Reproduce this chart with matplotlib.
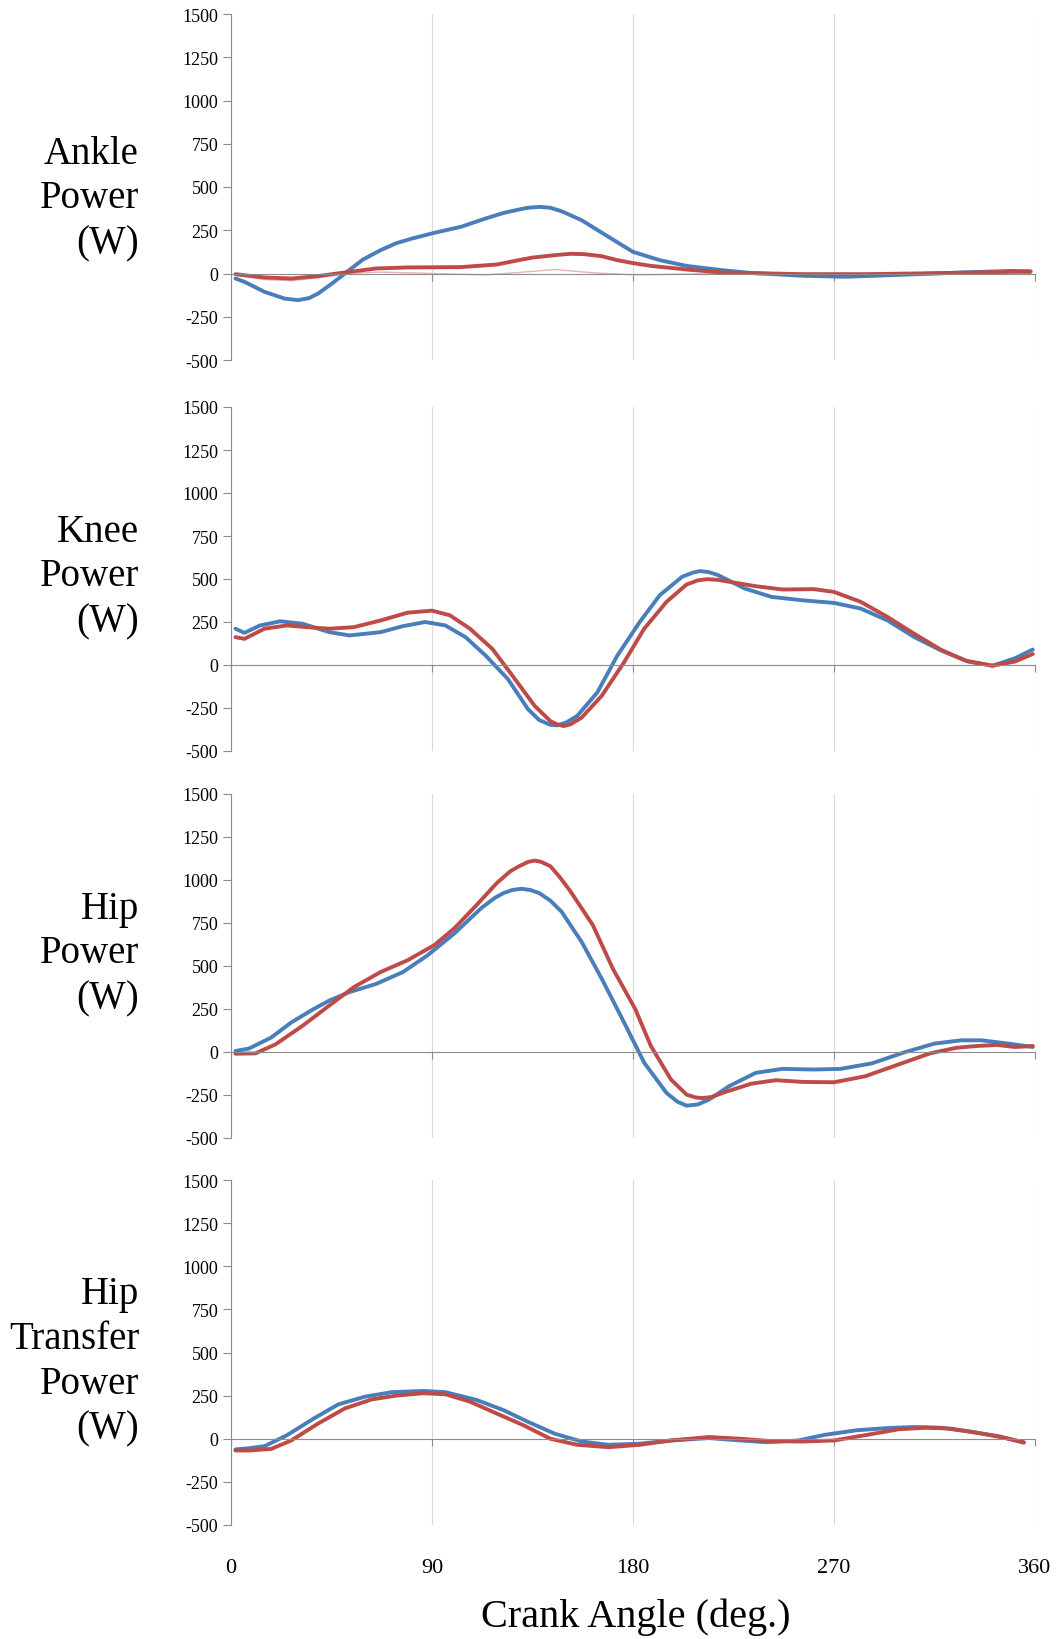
import matplotlib.pyplot as plt

plt.rcParams['font.family'] = 'serif'
plt.rcParams['font.serif'] = ['Liberation Serif', 'DejaVu Serif']

#------------------------------------------------------------------------------
# Joint power over one crank revolution (angle in deg, power in W)
#------------------------------------------------------------------------------
ankle_blue_x = [2, 6, 15, 24, 30, 35, 39, 45, 51, 59, 67, 74, 81, 91, 103, 114, 122,
                129, 133, 138, 143, 148, 157, 169, 180, 192, 204, 220, 232, 256, 275,
                303, 327, 350, 358]
ankle_blue_y = [-29, -48, -106, -145, -154, -142, -116, -60, 0, 80, 135, 175, 202, 235,
                270, 318, 350, 370, 380, 385, 380, 360, 308, 212, 125, 77, 44, 19, 4,
                -13, -19, -6, 6, 15, 10]
ankle_red_x = [2, 15, 27, 39, 51, 65, 79, 103, 119, 128, 135, 145, 152, 158, 166, 173,
               180, 188, 204, 220, 256, 284, 327, 358]
ankle_red_y = [-4, -23, -29, -15, 6, 29, 35, 37, 52, 75, 92, 106, 114, 112, 100, 77, 60,
               44, 23, 6, -4, -4, 4, 13]
ankle_faint_x = [2, 15, 27, 39, 51, 67, 91, 114, 129, 145, 162, 181, 220, 270, 358]
ankle_faint_y = [-10, -35, -42, -25, 0, 8, 0, -8, 6, 23, 4, -8, 0, 0, 0]

knee_blue_x = [2, 6, 13, 22, 32, 44, 53, 67, 77, 87, 96, 105, 114, 124, 133, 138, 143,
               146, 150, 155, 164, 173, 183, 192, 202, 207, 210, 214, 218, 230, 242,
               256, 270, 282, 294, 306, 318, 330, 341, 351, 359]
knee_blue_y = [211, 187, 230, 254, 240, 191, 172, 191, 226, 250, 230, 162, 55, -82,
               -257, -320, -348, -351, -335, -296, -160, 55, 250, 406, 513, 538, 546,
               540, 523, 445, 396, 376, 361, 328, 259, 162, 84, 20, -4, 39, 90]
knee_red_x = [2, 6, 15, 25, 34, 44, 55, 67, 79, 90, 98, 107, 117, 126, 136, 143, 146,
              149, 152, 157, 166, 176, 185, 195, 204, 209, 213, 218, 223, 235, 247,
              261, 270, 282, 294, 306, 318, 329, 341, 351, 359]
knee_red_y = [162, 152, 211, 230, 220, 211, 220, 259, 304, 316, 289, 211, 94, -62,
              -238, -326, -345, -355, -345, -306, -179, 16, 211, 367, 468, 492, 499,
              495, 484, 458, 439, 441, 425, 367, 279, 181, 88, 25, -4, 20, 64]

hip_blue_x = [2, 8, 18, 27, 37, 44, 53, 65, 77, 88, 100, 112, 118, 122, 126, 130, 134,
              138, 143, 148, 157, 166, 176, 185, 195, 200, 204, 209, 214, 223, 235,
              247, 261, 273, 287, 301, 315, 327, 336, 348, 359]
hip_blue_y = [6, 20, 84, 172, 250, 299, 348, 396, 465, 562, 689, 836, 895, 924, 942,
              949, 942, 924, 880, 816, 640, 426, 172, -62, -238, -290, -312, -305,
              -277, -199, -121, -98, -102, -98, -66, -4, 49, 68, 68, 49, 29]
hip_red_x = [2, 11, 20, 32, 44, 55, 67, 79, 91, 100, 110, 119, 125, 129, 133, 136, 139,
             143, 147, 152, 162, 171, 181, 188, 197, 204, 208, 211, 215, 221, 233, 244,
             256, 270, 284, 299, 313, 325, 334, 343, 351, 359]
hip_red_y = [-10, -8, 45, 152, 270, 377, 465, 533, 621, 719, 855, 982, 1050, 1080,
             1105, 1113, 1105, 1080, 1020, 934, 738, 484, 250, 35, -160, -248, -264,
             -268, -262, -234, -184, -164, -174, -176, -141, -72, -8, 25, 35, 41, 29,
             35]

transfer_blue_x = [2, 8, 15, 25, 37, 48, 60, 72, 86, 96, 110, 122, 133, 145, 157, 169,
                   183, 197, 214, 228, 240, 254, 266, 280, 294, 306, 318, 332, 344,
                   355]
transfer_blue_y = [-62, -55, -43, 20, 117, 199, 244, 270, 277, 270, 225, 166, 98, 29,
                   -16, -35, -29, -10, 4, -10, -20, -10, 23, 49, 62, 68, 64, 39, 14,
                   -23]
transfer_red_x = [2, 8, 18, 27, 39, 51, 63, 74, 86, 96, 107, 119, 131, 143, 155, 169,
                  183, 197, 214, 228, 242, 256, 270, 285, 299, 311, 322, 334, 346,
                  355]
transfer_red_y = [-68, -68, -59, -10, 88, 176, 228, 250, 264, 258, 215, 146, 78, 0,
                  -35, -49, -35, -10, 10, 0, -14, -16, -10, 23, 55, 64, 59, 35, 6,
                  -20]

panel_names = ['Ankle\nPower\n(W)', 'Knee\nPower\n(W)', 'Hip\nPower\n(W)',
               'Hip\nTransfer\nPower\n(W)']
y_ticks = [-500, -250, 0, 250, 500, 750, 1000, 1250, 1500]
x_ticks = [0, 90, 180, 270, 360]

#------------------------------------------------------------------------------
# Figure layout
#------------------------------------------------------------------------------
W, H = 1057, 1640
blue = '#4a7ebb'
red = '#be4b48'
gray = '#8c8c8c'
lw = 2.8

fig = plt.figure(figsize=(W / 100, H / 100), dpi=100)

# (top, bottom) of each panel and centre of its label, in pixels from the top
panel_px = [(15, 361, 199), (408, 752, 577), (795, 1139, 954), (1181, 1526, 1362)]
left, right = 231 / W, 1035 / W

series = [
    [(ankle_faint_x, ankle_faint_y, '#e8b4b3', 1.0),
     (ankle_blue_x, ankle_blue_y, blue, lw),
     (ankle_red_x, ankle_red_y, red, lw)],
    [(knee_blue_x, knee_blue_y, blue, lw),
     (knee_red_x, knee_red_y, red, lw)],
    [(hip_blue_x, hip_blue_y, blue, lw),
     (hip_red_x, hip_red_y, red, lw)],
    [(transfer_blue_x, transfer_blue_y, blue, lw),
     (transfer_red_x, transfer_red_y, red, lw)],
]

axes = []
for (top, bot, lab_y), name, lines in zip(panel_px, panel_names, series):
    ax = fig.add_axes([left, 1 - bot / H, right - left, (bot - top) / H])
    for xs, ys, c, w in lines:
        ax.plot(xs, ys, color=c, linewidth=w, solid_capstyle='round',
                solid_joinstyle='round')
    ax.set_xlim(0, 360)
    ax.set_ylim(-500, 1500)
    ax.set_xticks(x_ticks)
    ax.set_yticks(y_ticks)
    ax.set_yticklabels([str(t) for t in y_ticks], fontsize=13)
    ax.grid(axis='x', color='#d9d9d9', linewidth=0.8)
    ax.set_axisbelow(True)
    for s in ['top', 'right']:
        ax.spines[s].set_visible(False)
    ax.spines['left'].set_color(gray)
    ax.spines['bottom'].set_color(gray)
    ax.spines['bottom'].set_position(('data', 0))
    ax.tick_params(axis='y', direction='out', length=6, width=0.8, color=gray, pad=3)
    ax.tick_params(axis='x', direction='out', length=5, width=0.8, color=gray,
                   labelbottom=False)
    fig.text(139 / W, 1 - lab_y / H, name, ha='right', va='center', fontsize=28,
             linespacing=1.28)
    axes.append(ax)

# crank angle labels under the last panel
ax = axes[-1]
for t in x_ticks:
    ax.text(t, -0.122, str(t), transform=ax.get_xaxis_transform(), ha='center',
            va='center', fontsize=16)
fig.text(636 / W, 1 - 1617 / H, 'Crank Angle (deg.)', ha='center', va='center',
         fontsize=29)

plt.savefig('out.png', dpi=100)
